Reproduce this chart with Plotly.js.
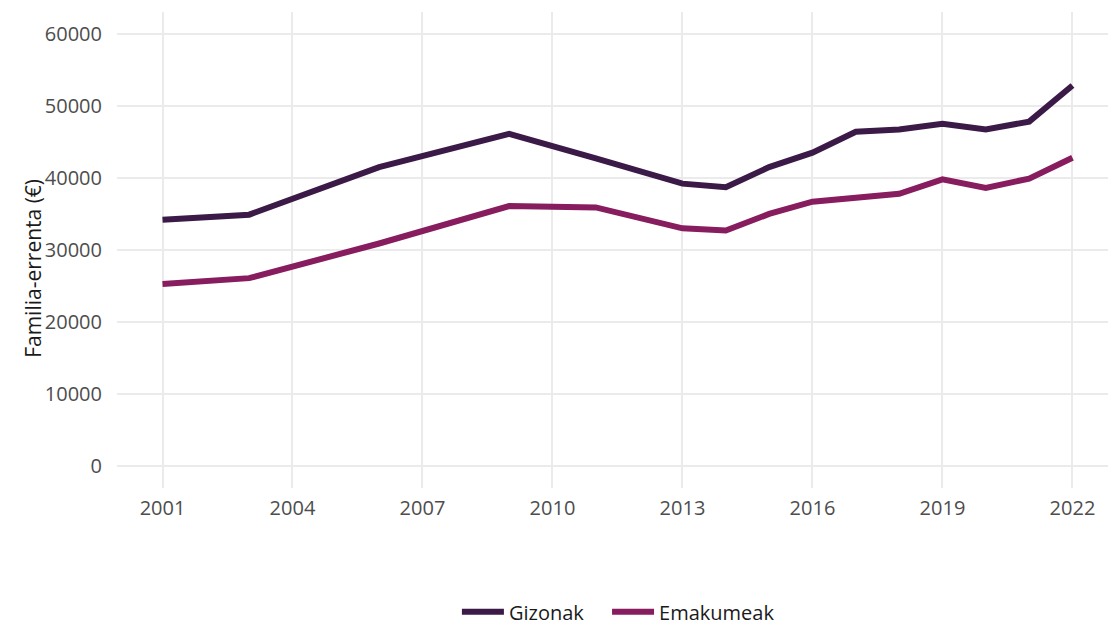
<!DOCTYPE html>
<html>
<head>
<meta charset="utf-8">
<script src="https://cdn.plot.ly/plotly-3.0.1.min.js"></script>
<style>html,body{margin:0;padding:0;background:#fff;}#chart{width:1108px;height:625px;}</style>
</head>
<body>
<div id="chart"></div>
<script>
const years = [2001, 2003, 2006, 2009, 2011, 2013, 2014, 2015, 2016, 2017, 2018, 2019, 2020, 2021, 2022];
const gizonak = [34200, 34900, 41500, 46100, 42700, 39200, 38700, 41500, 43500, 46400, 46700, 47500, 46700, 47800, 52800];
const emakumeak = [25300, 26100, 30900, 36100, 35900, 33000, 32700, 35000, 36700, 37300, 37800, 39800, 38600, 39900, 42800];
const seriesNames = ['Gizonak', 'Emakumeak'];
const tickYears = [2001, 2004, 2007, 2010, 2013, 2016, 2019, 2022];
const yTicks = [0, 10000, 20000, 30000, 40000, 50000, 60000];
const yTitle = 'Familia-errenta (€)';

const font = 'Open Sans, sans-serif';
const traces = [
  {x: years, y: gizonak, name: seriesNames[0], type: 'scatter', mode: 'lines',
   line: {color: '#3b1a48', width: 6}, legend: 'legend'},
  {x: years, y: emakumeak, name: seriesNames[1], type: 'scatter', mode: 'lines',
   line: {color: '#871c5e', width: 6}, legend: 'legend2'}
];
const legendBase = {orientation: 'h', xanchor: 'left', y: -0.26, yanchor: 'middle',
  font: {family: font, size: 20, color: '#1a1a1a'}, itemwidth: 42, bgcolor: 'rgba(0,0,0,0)'};
const layout = {
  width: 1108, height: 625,
  margin: {l: 117, r: 0, t: 12, b: 137, autoexpand: false},
  paper_bgcolor: '#fff', plot_bgcolor: '#fff',
  font: {family: font, color: '#4d4d4d', size: 20},
  showlegend: true,
  legend: Object.assign({}, legendBase, {x: 0.343}),
  legend2: Object.assign({}, legendBase, {x: 0.4945}),
  xaxis: {range: [1999.95, 2022.82], tickvals: tickYears, ticktext: tickYears.map(String),
    showgrid: true, gridcolor: '#ebebeb', gridwidth: 2, zeroline: false, showline: false,
    ticks: '', ticklen: 0, automargin: false, ticklabelstandoff: 6,
    tickfont: {family: font, size: 20, color: '#4d4d4d'}},
  yaxis: {range: [-3000, 63000], tickvals: yTicks, ticktext: yTicks.map(String),
    showgrid: true, gridcolor: '#ebebeb', gridwidth: 2, zeroline: false, showline: false,
    ticks: '', ticklen: 0, automargin: false, ticklabelstandoff: 14,
    tickfont: {family: font, size: 20, color: '#4d4d4d'}},
  annotations: [{text: yTitle, xref: 'paper', yref: 'paper', x: -0.085, y: 0.462,
    xanchor: 'center', yanchor: 'middle', textangle: -90, showarrow: false,
    font: {family: font, size: 21, color: '#1a1a1a'}}]
};
Plotly.newPlot('chart', traces, layout, {displayModeBar: false, staticPlot: true});
</script>
</body>
</html>
